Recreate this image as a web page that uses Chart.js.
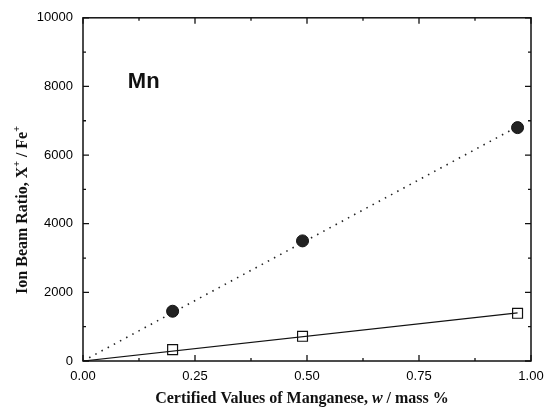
<!DOCTYPE html>
<html>
<head>
<meta charset="utf-8">
<script src="https://cdn.jsdelivr.net/npm/chart.js@4/dist/chart.umd.min.js"></script>
<style>
  html, body { margin: 0; padding: 0; background: #fff; }
  #wrap { width: 553px; height: 408px; }
</style>
</head>
<body>
<div id="wrap"><canvas id="myChart" width="553" height="408"></canvas></div>
<script>
// measured points
const conc = [0.20, 0.49, 0.97];
const ratioCircle = [1450, 3500, 6800];
const ratioSquare = [330, 720, 1390];
// fitted lines
const fitX = [0, 0.97];
const fitCircle = [0, 6830];
const fitSquare = [0, 1400];
// axis ticks
const xMajor = [0, 0.25, 0.5, 0.75, 1];
const xMinor = [0.125, 0.375, 0.625, 0.875];
const yMajor = [0, 2000, 4000, 6000, 8000, 10000];
const yMinor = [1000, 3000, 5000, 7000, 9000];

const serif = '"Liberation Serif", "Times New Roman", serif';
const sans = '"Liberation Sans", Arial, sans-serif';

function points(xs, ys) {
  return xs.map((x, i) => ({ x: x, y: ys[i] }));
}

// draw text made of pieces with different fonts, centred on cx
function drawPieces(ctx, pieces, cx, cy) {
  let total = 0;
  pieces.forEach(p => { ctx.font = p.font; total += ctx.measureText(p.text).width; });
  let x = cx - total / 2;
  pieces.forEach(p => {
    ctx.font = p.font;
    ctx.fillText(p.text, x, cy + (p.dy || 0));
    x += ctx.measureText(p.text).width;
  });
}

const framePlugin = {
  id: 'frame',
  afterDraw(chart) {
    const ctx = chart.ctx;
    const a = chart.chartArea;
    const xs = chart.scales.x, ys = chart.scales.y;
    ctx.save();
    ctx.strokeStyle = '#111';
    ctx.lineWidth = 1.5;
    ctx.strokeRect(a.left, a.top, a.right - a.left, a.bottom - a.top);

    // inward ticks on all four sides
    ctx.lineWidth = 1.3;
    ctx.beginPath();
    const xt = (v, len) => {
      const px = xs.getPixelForValue(v);
      ctx.moveTo(px, a.bottom); ctx.lineTo(px, a.bottom - len);
      ctx.moveTo(px, a.top); ctx.lineTo(px, a.top + len);
    };
    const yt = (v, len) => {
      const py = ys.getPixelForValue(v);
      ctx.moveTo(a.left, py); ctx.lineTo(a.left + len, py);
      ctx.moveTo(a.right, py); ctx.lineTo(a.right - len, py);
    };
    xMajor.forEach(v => xt(v, 6));
    xMinor.forEach(v => xt(v, 3));
    yMajor.forEach(v => yt(v, 6));
    yMinor.forEach(v => yt(v, 3));
    ctx.stroke();

    ctx.fillStyle = '#111';
    ctx.textBaseline = 'alphabetic';
    ctx.textAlign = 'left';

    // Mn label
    ctx.font = 'bold 22px ' + sans;
    ctx.fillText('Mn', xs.getPixelForValue(0.1), ys.getPixelForValue(7950));

    // x title
    const b = 'bold 16px ' + serif;
    drawPieces(ctx, [
      { text: 'Certified Values of Manganese, ', font: b },
      { text: 'w', font: 'italic bold 16px ' + serif },
      { text: ' / mass %', font: b }
    ], 302, 403);

    // y title
    ctx.translate(27, 210);
    ctx.rotate(-Math.PI / 2);
    const sup = 'bold 10px ' + serif;
    drawPieces(ctx, [
      { text: 'Ion Beam Ratio, X', font: b },
      { text: '+', font: sup, dy: -7 },
      { text: ' / Fe', font: b },
      { text: '+', font: sup, dy: -7 }
    ], 0, 0);
    ctx.restore();
  }
};

new Chart(document.getElementById('myChart'), {
  type: 'scatter',
  data: {
    datasets: [
      {
        data: points(fitX, fitCircle),
        showLine: true,
        borderColor: '#222',
        borderWidth: 1.6,
        borderDash: [1.5, 5.5],
        pointRadius: 0
      },
      {
        data: points(fitX, fitSquare),
        showLine: true,
        borderColor: '#111',
        borderWidth: 1.2,
        pointRadius: 0
      },
      {
        data: points(conc, ratioCircle),
        pointStyle: 'circle',
        pointRadius: 6,
        backgroundColor: '#222',
        borderColor: '#111',
        borderWidth: 1
      },
      {
        data: points(conc, ratioSquare),
        pointStyle: 'rect',
        pointRadius: 7,
        backgroundColor: '#fff',
        borderColor: '#111',
        borderWidth: 1.2
      }
    ]
  },
  options: {
    responsive: false,
    animation: false,
    layout: { padding: { top: 16, right: 22, left: 0, bottom: 0 } },
    plugins: { legend: { display: false }, tooltip: { enabled: false } },
    scales: {
      x: {
        type: 'linear',
        min: 0,
        max: 1,
        afterFit(scale) { scale.height = 47; },
        grid: { display: true, drawOnChartArea: false, drawTicks: false },
        border: { display: false },
        ticks: {
          stepSize: 0.25,
          padding: 8,
          maxRotation: 0,
          color: '#000',
          font: { family: sans, size: 13 },
          callback: v => v.toFixed(2)
        }
      },
      y: {
        type: 'linear',
        min: 0,
        max: 10000,
        afterFit(scale) { scale.width = 83; },
        grid: { display: true, drawOnChartArea: false, drawTicks: false },
        border: { display: false },
        ticks: {
          stepSize: 2000,
          padding: 10,
          color: '#000',
          font: { family: sans, size: 13 },
          callback: v => String(v)
        }
      }
    }
  },
  plugins: [framePlugin]
});
</script>
</body>
</html>
